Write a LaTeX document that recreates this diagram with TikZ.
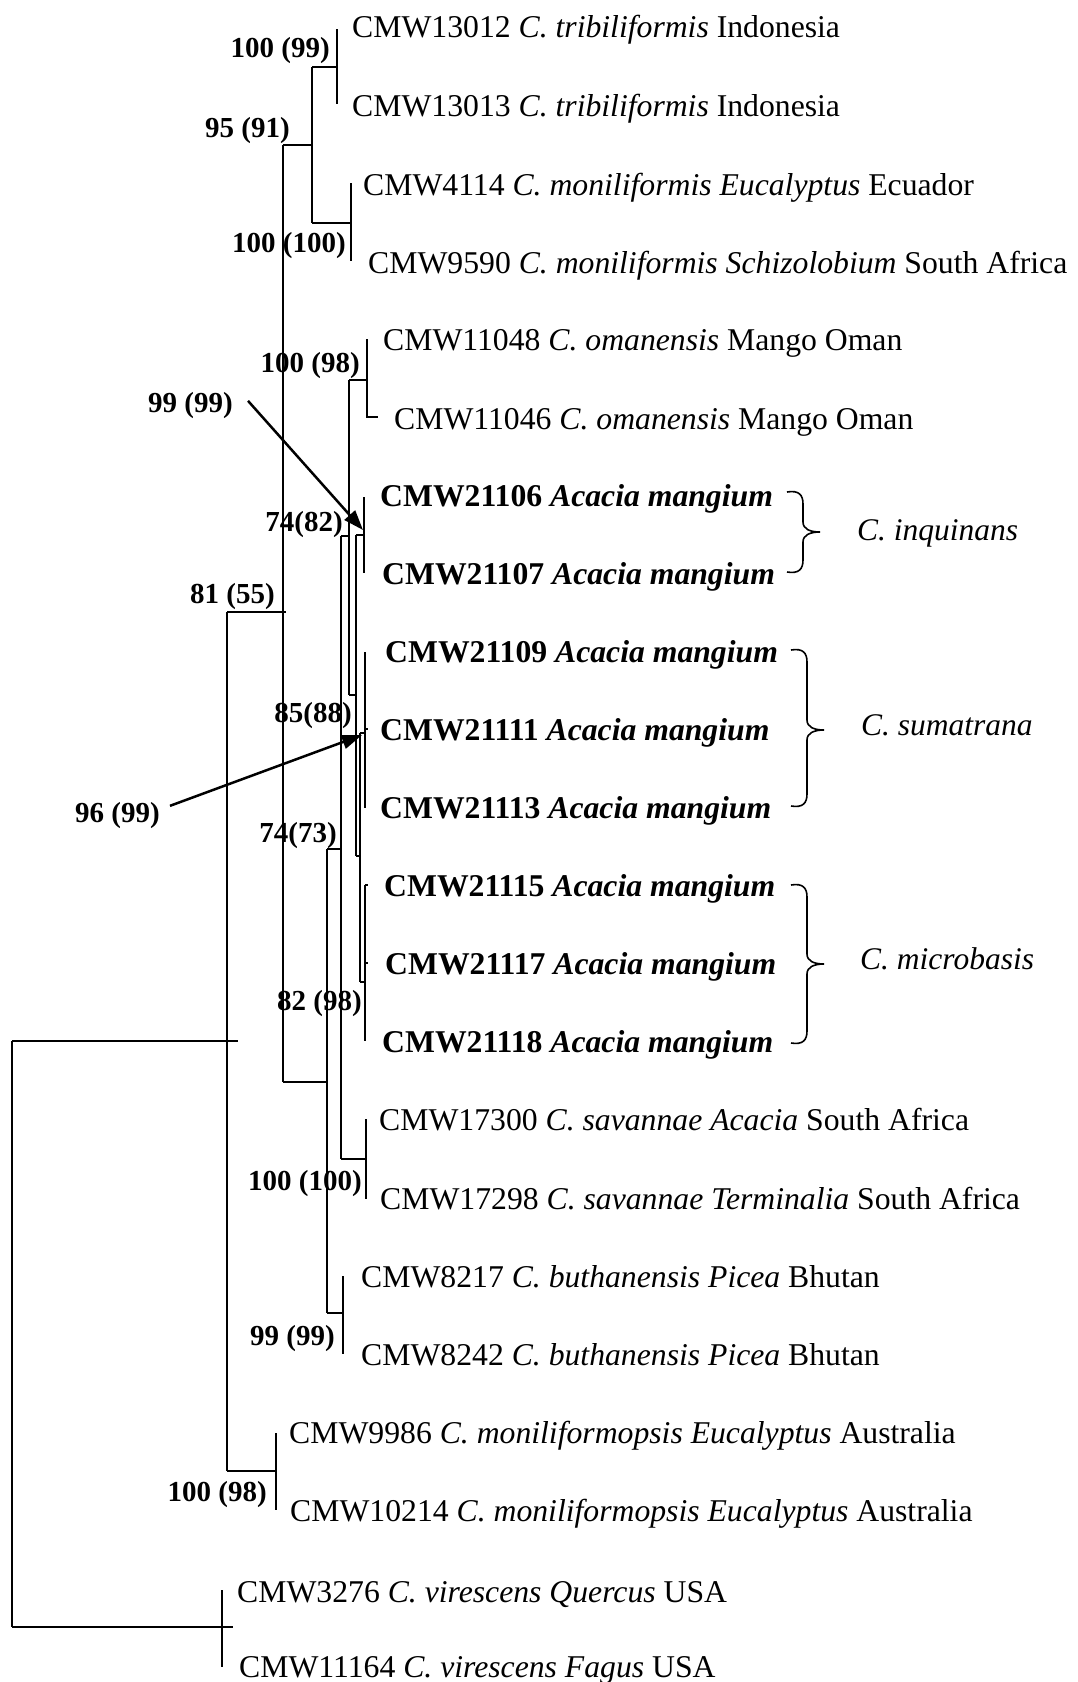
\documentclass[tikz,border=0pt]{standalone}
\usepackage{fontspec}
\setmainfont{Liberation Serif}
\usetikzlibrary{arrows.meta}
\begin{document}
\begin{tikzpicture}[x=1pt,y=-1pt,
  br/.style={line width=2pt},
  leaf/.style={anchor=base west,inner sep=0pt,font=\fontsize{31.7}{36}\selectfont},
  leafb/.style={leaf,font=\fontsize{31.7}{36}\selectfont\bfseries},
  bs/.style={anchor=base east,inner sep=0pt,font=\fontsize{29}{34}\selectfont\bfseries},
  grp/.style={anchor=base west,inner sep=0pt,font=\fontsize{31.5}{36}\selectfont\itshape},
  arr/.style={line width=2.5pt,-{Triangle[length=20pt,width=14pt]}},
  brc/.style={line width=1.6pt}]
\useasboundingbox (0,0) rectangle (1077,1682);

% ---------- leaf labels ----------
\node[leaf]  (L0)  at (352,37.5)  {CMW13012 \textit{C. tribiliformis} Indonesia};
\node[leaf]  (L1)  at (352,116)   {CMW13013 \textit{C. tribiliformis} Indonesia};
\node[leaf]  (L2)  at (363,195.5) {CMW4114 \textit{C. moniliformis Eucalyptus} Ecuador};
\node[leaf]  (L3)  at (368,273.5) {CMW9590 \textit{C. moniliformis Schizolobium} South Africa};
\node[leaf]  (L4)  at (383,350.5) {CMW11048 \textit{C. omanensis} Mango Oman};
\node[leaf]  (L5)  at (394,429.5) {CMW11046 \textit{C. omanensis} Mango Oman};
\node[leafb] (L6)  at (380,506.5) {CMW21106 \textit{Acacia mangium}};
\node[leafb] (L7)  at (382,584.5) {CMW21107 \textit{Acacia mangium}};
\node[leafb] (L8)  at (385,662.5) {CMW21109 \textit{Acacia mangium}};
\node[leafb] (L9)  at (380,740.5) {CMW21111 \textit{Acacia mangium}};
\node[leafb] (L10) at (380,818.5) {CMW21113 \textit{Acacia mangium}};
\node[leafb] (L11) at (384,896.5) {CMW21115 \textit{Acacia mangium}};
\node[leafb] (L12) at (385,974.5) {CMW21117 \textit{Acacia mangium}};
\node[leafb] (L13) at (382,1052.5) {CMW21118 \textit{Acacia mangium}};
\node[leaf]  (L14) at (379,1130.5) {CMW17300 \textit{C. savannae Acacia} South Africa};
\node[leaf]  (L15) at (380,1209.5) {CMW17298 \textit{C. savannae Terminalia} South Africa};
\node[leaf]  (L16) at (361,1287.5) {CMW8217 \textit{C. buthanensis Picea} Bhutan};
\node[leaf]  (L17) at (361,1365.5) {CMW8242 \textit{C. buthanensis Picea} Bhutan};
\node[leaf]  (L18) at (289,1443.5) {CMW9986 \textit{C. moniliformopsis Eucalyptus} Australia};
\node[leaf]  (L19) at (290,1521.5) {CMW10214 \textit{C. moniliformopsis Eucalyptus} Australia};
\node[leaf]  (L20) at (237,1602.5) {CMW3276 \textit{C. virescens Quercus} USA};
\node[leaf]  (L21) at (239,1677.5) {CMW11164 \textit{C. virescens Fagus} USA};

% ---------- tree ----------
% root
\draw[br] (12,1041) -- (12,1627);
\draw[br] (12,1041) -- (238,1041);
\draw[br] (12,1627) -- (233,1627);
\draw[br] (222,1590) -- (222,1667);
% node A
\draw[br] (227,612) -- (227,1471);
\draw[br] (227,612) -- (286,612);
\draw[br] (227,1471) -- (276,1471);
\draw[br] (276,1433) -- (276,1510);
% node B
\draw[br] (283,145) -- (283,1082);
\draw[br] (283,145) -- (312,145);
\draw[br] (283,1082) -- (327,1082);
% node C
\draw[br] (312,67) -- (312,223);
\draw[br] (312,67) -- (337,67);
\draw[br] (312,223) -- (351,223);
\draw[br] (337,29) -- (337,104);
\draw[br] (351,183) -- (351,261);
% node D
\draw[br] (327,849) -- (327,1313);
\draw[br] (327,849) -- (341,849);
\draw[br] (327,1313) -- (343,1313);
\draw[br] (343,1276) -- (343,1354);
% node E
\draw[br] (341,536) -- (341,1159);
\draw[br] (341,536) -- (349,536);
\draw[br] (341,1159) -- (366,1159);
\draw[br] (366,1119) -- (366,1199);
% node F
\draw[br] (349,380) -- (349,695);
\draw[br] (349,380) -- (367,380);
\draw[br] (349,695) -- (356,695);
\draw[br] (367,339) -- (367,417) -- (378,417);
% node G
\draw[br] (356,535) -- (356,856);
\draw[br] (356,535) -- (364,535);
\draw[br] (356,856) -- (360,856);
\draw[br] (364,497) -- (364,573);
% node H
\draw[br] (360,733) -- (360,982);
\draw[br] (360,733) -- (365,733);
\draw[br] (360,982) -- (365,982);
\draw[br] (365,652) -- (365,808);
\draw[br] (365,729) -- (368,729);
\draw[br] (365,885) -- (365,1041);
\draw[br] (365,885) -- (368,885);
\draw[br] (365,963) -- (368,963);

\coordinate (inq) at (363,530);
\coordinate (sum) at (362,735);

% ---------- support values ----------
\node[bs] (b1)  at (330,57.8)   {100 (99)};
\node[bs] (b2)  at (290,137.8)  {95 (91)};
\node[bs] (b3)  at (346,252.8)  {100 (100)};
\node[bs] (b4)  at (360,372.8)  {100 (98)};
\node[bs] (b5)  at (233,412.8)  {99 (99)};
\node[bs] (b6)  at (343,531.8)  {74(82)};
\node[bs] (b7)  at (275,603.8)  {81 (55)};
\node[bs] (b8)  at (352,722.8)  {85(88)};
\node[bs] (b9)  at (160,822.8)  {96 (99)};
\node[bs] (b10) at (337,842.8)  {74(73)};
\node[bs] (b11) at (362,1010.8) {82 (98)};
\node[bs] (b12) at (362,1190.8) {100 (100)};
\node[bs] (b13) at (335,1345.8) {99 (99)};
\node[bs] (b14) at (267,1501.8) {100 (98)};

\draw[arr] (b5.east) ++(15,-5) coordinate (a1) -- (inq);
\draw[arr] (b9.east) ++(10,-10) coordinate (a2) -- (sum);

% ---------- braces ----------
\draw[brc] (787,492) .. controls (799,490) and (803,495) .. (803,504)
  -- (803,522) .. controls (803,529) and (810,532) .. (820,532)
  .. controls (810,532) and (803,535) .. (803,542)
  -- (803,560) .. controls (803,569) and (799,574) .. (787,572);
\draw[brc] (791,650) .. controls (803,648) and (807,653) .. (807,662)
  -- (807,720) .. controls (807,727) and (814,730) .. (824,730)
  .. controls (814,730) and (807,733) .. (807,740)
  -- (807,794) .. controls (807,803) and (803,808) .. (791,806);
\draw[brc] (791,885) .. controls (803,883) and (807,888) .. (807,897)
  -- (807,954) .. controls (807,961) and (814,964) .. (824,964)
  .. controls (814,964) and (807,967) .. (807,974)
  -- (807,1031) .. controls (807,1040) and (803,1045) .. (791,1043);

\node[grp] (g1) at (857,540) {C. inquinans};
\node[grp] (g2) at (861,735) {C. sumatrana};
\node[grp] (g3) at (860,969) {C. microbasis};
\end{tikzpicture}
\end{document}
